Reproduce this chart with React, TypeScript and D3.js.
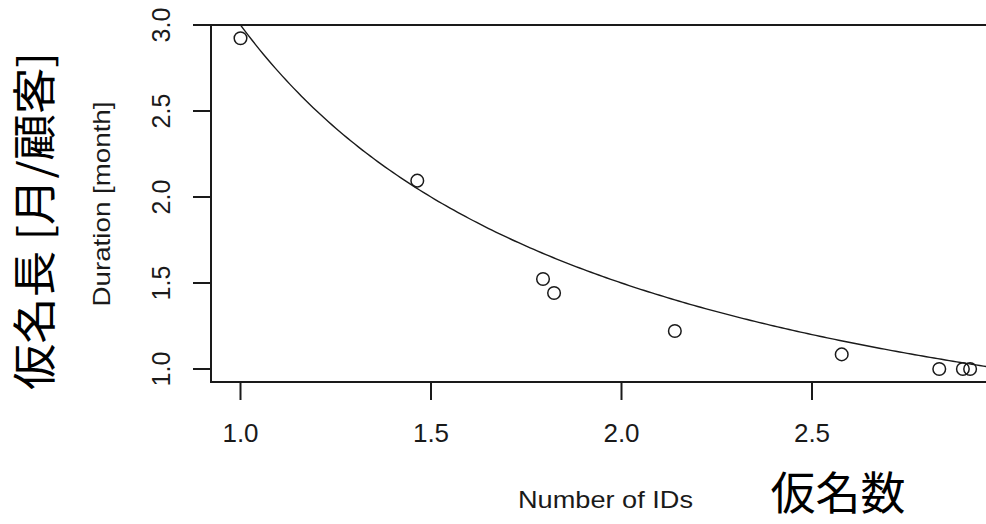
import React, { useEffect, useRef } from 'react';
import * as d3 from 'd3';

// observed points: number of IDs vs duration
const numIds = [1.0, 1.464, 1.794, 1.823, 2.14, 2.578, 2.834, 2.896, 2.915];
const durations = [2.923, 2.095, 1.523, 1.442, 1.221, 1.085, 1.0, 1.0, 1.0];

// fitted curve y = a * x^b
const fitA = 3;
const fitB = -1;

const xTicks = [1.0, 1.5, 2.0, 2.5];
const yTicks = [1.0, 1.5, 2.0, 2.5, 3.0];

const xLabel = 'Number of IDs';
const yLabel = 'Duration [month]';
const xLabelJa = '仮名数';
const yLabelJa = '仮名長 [月/顧客]';

const W = 986;
const H = 524;

const App = () => {
  const ref = useRef(null);

  useEffect(() => {
    if (!ref.current) return;
    const svg = d3.select(ref.current);
    svg.selectAll('*').remove();

    const box = { left: 211, top: 25, right: 1000, bottom: 382 };
    const x = d3.scaleLinear().domain([1, 2]).range([240.5, 621.5]);
    const y = d3.scaleLinear().domain([1, 3]).range([369, 25]);
    const ink = '#1a1a1a';
    const sans = '"Liberation Sans", Arial, sans-serif';
    const cjk = '"Noto Sans CJK JP", sans-serif';

    svg.append('rect').attr('width', W).attr('height', H).attr('fill', '#fff');

    svg
      .append('clipPath')
      .attr('id', 'plotclip')
      .append('rect')
      .attr('x', box.left)
      .attr('y', box.top)
      .attr('width', box.right - box.left)
      .attr('height', box.bottom - box.top);

    // fitted curve
    const xs = d3.range(0.9, 3.05, 0.01);
    const line = d3
      .line()
      .x((d) => x(d))
      .y((d) => y(fitA * Math.pow(d, fitB)));
    svg
      .append('path')
      .datum(xs)
      .attr('clip-path', 'url(#plotclip)')
      .attr('d', line)
      .attr('fill', 'none')
      .attr('stroke', ink)
      .attr('stroke-width', 1.4);

    // points
    svg
      .append('g')
      .selectAll('circle')
      .data(numIds)
      .join('circle')
      .attr('cx', (d) => x(d))
      .attr('cy', (d, i) => y(durations[i]))
      .attr('r', 6.3)
      .attr('fill', 'none')
      .attr('stroke', ink)
      .attr('stroke-width', 1.5);

    // box
    svg
      .append('rect')
      .attr('x', box.left)
      .attr('y', box.top)
      .attr('width', box.right - box.left)
      .attr('height', box.bottom - box.top)
      .attr('fill', 'none')
      .attr('stroke', ink)
      .attr('stroke-width', 2);

    // x axis ticks + labels
    const gx = svg.append('g');
    gx.selectAll('line')
      .data(xTicks)
      .join('line')
      .attr('x1', (d) => x(d))
      .attr('x2', (d) => x(d))
      .attr('y1', box.bottom)
      .attr('y2', box.bottom + 18)
      .attr('stroke', ink)
      .attr('stroke-width', 2);
    gx.selectAll('text')
      .data(xTicks)
      .join('text')
      .attr('x', (d) => x(d))
      .attr('y', 442)
      .attr('text-anchor', 'middle')
      .attr('font-family', sans)
      .attr('font-size', 26)
      .attr('fill', ink)
      .text((d) => d.toFixed(1));

    // y axis ticks + labels (rotated, R style)
    const gy = svg.append('g');
    gy.selectAll('line')
      .data(yTicks)
      .join('line')
      .attr('x1', box.left - 18)
      .attr('x2', box.left)
      .attr('y1', (d) => y(d))
      .attr('y2', (d) => y(d))
      .attr('stroke', ink)
      .attr('stroke-width', 2);
    gy.selectAll('text')
      .data(yTicks)
      .join('text')
      .attr('transform', (d) => `translate(170,${y(d)}) rotate(-90)`)
      .attr('text-anchor', 'middle')
      .attr('font-family', sans)
      .attr('font-size', 25)
      .attr('fill', ink)
      .text((d) => d.toFixed(1));

    // axis titles
    svg
      .append('text')
      .attr('x', 605.5)
      .attr('y', 508)
      .attr('text-anchor', 'middle')
      .attr('font-family', sans)
      .attr('font-size', 24)
      .attr('textLength', 175)
      .attr('lengthAdjust', 'spacingAndGlyphs')
      .attr('fill', ink)
      .text(xLabel);

    svg
      .append('text')
      .attr('transform', 'translate(110,204) rotate(-90)')
      .attr('text-anchor', 'middle')
      .attr('font-family', sans)
      .attr('font-size', 24)
      .attr('textLength', 205)
      .attr('lengthAdjust', 'spacingAndGlyphs')
      .attr('fill', ink)
      .text(yLabel);

    // japanese labels
    svg
      .append('text')
      .attr('x', 838)
      .attr('y', 510)
      .attr('text-anchor', 'middle')
      .attr('font-family', cjk)
      .attr('font-size', 45)
      .attr('fill', '#000')
      .text(xLabelJa);

    svg
      .append('text')
      .attr('transform', 'translate(51,221) rotate(-90)')
      .attr('text-anchor', 'middle')
      .attr('font-family', cjk)
      .attr('font-size', 44)
      .attr('textLength', 338)
      .attr('lengthAdjust', 'spacingAndGlyphs')
      .attr('fill', '#000')
      .text(yLabelJa);
  }, []);

  return (
    <svg
      ref={ref}
      width={W}
      height={H}
      style={{ position: 'absolute', left: 0, top: 0 }}
    />
  );
};

export default App;
